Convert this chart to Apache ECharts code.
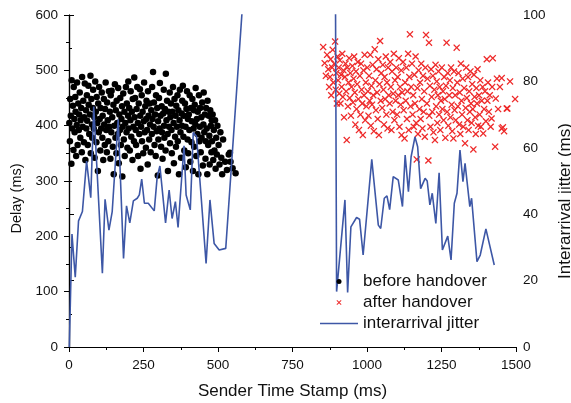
<!DOCTYPE html>
<html>
<head>
<meta charset="utf-8">
<script src="https://cdn.jsdelivr.net/npm/echarts@6/dist/echarts.min.js"></script>
<style>
  html, body { margin: 0; padding: 0; background: #fff; }
  #main { width: 571px; height: 403px; }
</style>
</head>
<body>
<div id="main"></div>
<script>
// before handover delay samples [sender ts (ms), delay (ms)]
const beforeHandover = [
  [1,405],[3,372],[4,448],[6,418],[8,331],[9,482],[11,395],[13,436],[15,356],[16,470],[18,412],[19,388],
  [21,452],[22,425],[24,345],[26,401],[27,478],[29,365],[31,440],[33,392],[34,420],[36,460],[38,378],[39,410],
  [41,432],[43,352],[44,488],[46,398],[48,445],[50,370],[51,415],[53,476],[55,338],[57,428],[58,395],[60,455],
  [61,409],[63,365],[65,472],[66,438],[68,385],[70,420],[72,490],[73,350],[75,448],[77,402],[78,378],[80,432],
  [81,465],[83,395],[85,415],[86,342],[88,480],[90,425],[92,370],[93,452],[95,405],[97,318],[98,440],[100,388],
  [101,470],[103,412],[105,355],[106,432],[108,395],[110,460],[112,378],[113,418],[115,338],[117,448],[118,402],[120,365],
  [121,430],[123,478],[125,392],[127,352],[128,442],[130,410],[132,372],[134,462],[135,398],[137,425],[139,340],[140,455],
  [142,388],[143,463],[145,415],[147,362],[149,438],[150,312],[152,400],[154,475],[156,378],[157,428],[159,350],[160,445],
  [162,405],[164,385],[165,468],[167,332],[169,420],[171,392],[172,450],[174,365],[176,412],[178,435],[179,308],[180,398],
  [182,458],[184,375],[186,425],[187,345],[189,405],[191,470],[193,388],[194,440],[196,360],[198,418],[199,480],[200,395],
  [202,432],[204,355],[206,410],[207,462],[209,380],[211,425],[213,338],[214,448],[216,398],[218,372],[219,487],[220,415],
  [222,450],[224,392],[225,365],[227,430],[229,470],[231,405],[232,345],[234,440],[236,385],[238,466],[239,418],[240,322],
  [242,398],[244,455],[245,372],[247,425],[249,350],[251,408],[252,478],[254,388],[256,435],[258,360],[259,412],[260,445],
  [262,392],[264,330],[265,462],[267,418],[269,375],[271,440],[272,402],[274,352],[276,428],[278,385],[279,470],[280,412],
  [282,497],[284,398],[285,442],[287,365],[289,420],[291,345],[292,455],[294,390],[296,432],[298,310],[299,408],[300,375],
  [302,450],[304,395],[305,477],[307,418],[309,362],[311,435],[312,388],[314,340],[316,422],[318,465],[319,400],[320,378],
  [322,430],[324,355],[325,494],[327,410],[329,445],[331,385],[332,318],[334,425],[336,398],[338,460],[339,368],[340,415],
  [342,440],[344,392],[345,350],[347,425],[349,470],[351,405],[352,332],[354,448],[356,380],[358,418],[359,362],[360,436],
  [362,398],[364,455],[365,372],[367,428],[369,312],[371,410],[372,465],[374,388],[376,342],[378,422],[379,400],[380,445],
  [382,472],[384,380],[385,418],[387,355],[389,440],[391,398],[392,325],[394,430],[396,462],[398,375],[399,412],[400,350],
  [402,420],[404,392],[405,455],[407,335],[409,432],[411,370],[412,408],[414,448],[416,318],[418,395],[419,428],[420,362],
  [422,438],[424,402],[425,468],[427,345],[429,412],[431,385],[432,425],[434,312],[436,455],[438,372],[439,398],[440,432],
  [442,352],[444,415],[445,378],[447,442],[449,328],[451,402],[452,460],[454,388],[456,420],[458,340],[459,372],[460,432],
  [462,395],[464,312],[465,445],[467,365],[469,418],[471,382],[472,330],[474,428],[476,400],[478,352],[479,410],[480,372],
  [482,420],[484,338],[486,392],[488,355],[490,410],[492,322],[494,378],[496,348],[498,400],
  [502,365],[505,330],[508,388],[511,342],[514,312],[517,375],
  [524,335],[530,320],[536,348],[540,351],[542,335],[549,323],[559,314]
];

// after handover delay samples
const afterHandover = [
  [853,542],[858,513],[862,490],[866,528],[870,502],[873,470],
  [876,488],[878,520],[880,455],[883,505],[885,537],[887,478],[890,512],[893,552],[895,465],[897,495],[899,440],
  [901,525],[903,482],[905,505],[907,458],[909,518],[911,440],[913,492],[915,470],[917,530],[919,452],[921,500],[923,415],
  [926,488],[928,512],[930,462],[932,374],[934,505],[936,435],[938,478],[940,522],[942,450],[944,495],[946,418],[948,470],
  [951,508],[953,442],[955,485],[957,525],[959,460],[961,402],[963,498],[965,430],[967,475],[969,515],[971,448],[973,392],
  [976,490],[978,420],[980,512],[982,465],[984,440],[986,383],[988,500],[990,455],[992,528],[994,410],[996,478],[998,435],
  [1001,505],[1003,462],[1005,418],[1007,490],[1009,445],[1011,528],[1013,400],[1015,472],[1017,438],[1019,510],[1021,455],[1023,390],
  [1026,538],[1028,482],[1030,428],[1032,502],[1034,460],[1036,412],[1038,520],[1040,383],[1042,475],[1044,553],[1046,445],[1048,495],
  [1051,432],[1053,510],[1055,465],[1057,402],[1059,488],[1061,448],[1063,525],[1065,420],[1067,478],[1069,395],[1071,505],[1073,455],
  [1076,440],[1078,515],[1080,470],[1082,392],[1084,498],[1086,425],[1088,458],[1090,530],[1092,410],[1094,482],[1096,445],[1098,505],
  [1101,420],[1103,488],[1105,455],[1107,522],[1109,398],[1111,470],[1113,438],[1115,500],[1116,383],[1118,460],[1121,515],[1123,428],
  [1126,377],[1128,478],[1130,445],[1132,505],[1134,412],[1136,462],[1138,530],[1140,392],[1142,488],[1144,565],[1146,435],[1148,470],
  [1151,512],[1153,420],[1155,455],[1157,398],[1159,492],[1161,440],[1163,525],[1165,405],[1167,339],[1169,468],[1171,385],[1173,500],
  [1176,430],[1178,478],[1180,412],[1182,512],[1184,448],[1186,395],[1188,490],[1190,425],[1192,462],[1194,380],[1196,505],[1198,564],
  [1201,440],[1203,485],[1206,337],[1208,550],[1209,418],[1211,472],[1213,398],[1215,502],[1217,452],[1219,425],[1221,490],[1223,388],
  [1226,465],[1228,374],[1230,510],[1232,435],[1234,480],[1236,405],[1238,455],[1240,498],[1242,420],[1244,470],[1246,392],[1248,445],
  [1251,505],[1253,430],[1255,462],[1257,410],[1259,488],[1261,448],[1263,378],[1265,472],[1267,550],[1269,425],[1271,495],[1273,400],
  [1276,455],[1278,482],[1280,415],[1282,505],[1284,438],[1286,390],[1288,468],[1290,377],[1292,498],[1294,428],[1296,455],[1298,410],
  [1301,541],[1303,478],[1305,435],[1307,495],[1309,402],[1311,460],[1313,385],[1315,512],[1317,445],[1319,420],[1321,485],[1323,398],
  [1326,468],[1329,368],[1331,432],[1333,505],[1335,450],[1337,410],[1339,488],[1341,392],[1343,462],[1345,425],[1347,498],[1349,440],
  [1351,405],[1353,475],[1355,430],[1357,357],[1359,492],[1361,452],[1363,415],[1365,385],[1367,468],[1369,440],[1371,502],[1373,400],
  [1376,455],[1378,420],[1380,482],[1382,398],[1385,445],[1388,470],[1390,386],[1393,430],[1396,462],[1399,408],
  [1402,520],[1404,445],[1406,478],[1409,425],[1412,455],[1415,398],[1418,413],[1420,470],[1422,522],
  [1430,362],[1432,449],[1436,485],[1440,430],[1446,470],[1452,486],[1452,395],[1456,397],[1460,390],[1469,431],[1471,431],[1480,480],[1497,448]
];

// interarrival jitter (right axis)
const jitter = [
  [1,0],[10,34],[21,21],[32,38],[45,40.8],[59,56],[73,45],[83,72.4],[112,22.2],[121,44.5],[134,35.2],[145,40.8],
  [165,68.6],[183,26.7],[193,42.5],[204,37.4],[216,44],[229,44.8],[236,45.8],[244,50.6],[253,43.3],[266,43.3],
  [286,41],[296,51.3],[305,54.5],[311,54.3],[324,37.4],[336,47.3],[346,38.7],[357,43.8],[366,36],[386,60.6],
  [393,45.8],[407,41.3],[417,64.6],[428,63.4],[443,45.8],[460,25.2],[473,44.3],[487,31.2],[504,29.2],[526,29.7],
  [878,488],[898,16.7],[926,44.3],[935,16.4],[946,36.2],[965,39],[975,38.5],[987,27.7],[1016,56.5],[1038,36.7],
  [1046,35.7],[1058,44.8],[1067,45.5],[1076,41.4],[1088,51.3],[1105,50.3],[1119,42.3],[1128,57.8],[1139,46.8],
  [1148,57.3],[1161,63.3],[1170,60.3],[1180,47.7],[1195,50.8],[1202,50],[1211,42.8],[1219,46.3],[1231,37.2],
  [1242,52.5],[1253,29.2],[1271,33.4],[1282,26.2],[1293,43.3],[1302,46.3],[1312,59.3],[1322,49.8],[1329,55.3],
  [1345,42.3],[1351,44.8],[1369,25.7],[1380,27.7],[1399,35.6],[1427,24.7]
];

const FONT = 'Liberation Sans, Arial, sans-serif';
// x 形状的点
const crossIcon = 'path://M0,1.3L1.3,0L5,3.7L8.7,0L10,1.3L6.3,5L10,8.7L8.7,10L5,6.3L1.3,10L0,8.7L3.7,5Z';
// 图例里的线
const lineIcon = 'path://M0,0L38,0L38,1.6L0,1.6Z';

const chart = echarts.init(document.getElementById('main'));

const axisLine = { show: true, lineStyle: { color: '#000', width: 1.2 } };
const tickLine = { color: '#000', width: 1 };
const numLabel = function (v) { return String(v); };

const option = {
  animation: false,
  textStyle: { fontFamily: FONT },
  grid: { left: 69, right: 55, top: 15, bottom: 56, containLabel: false, outerBoundsMode: 'none' },
  legend: {
    orient: 'vertical',
    left: 315,
    top: 268,
    itemWidth: 38,
    itemHeight: 5,
    itemGap: 4,
    textStyle: { fontSize: 17, color: '#111', fontFamily: FONT },
    data: [
      { name: 'before handover', icon: 'circle' },
      { name: 'after handover', icon: crossIcon },
      { name: 'interarrival jitter', icon: lineIcon }
    ]
  },
  xAxis: [
    {
      type: 'value', min: 0, max: 1500, interval: 250, position: 'bottom',
      axisLine: axisLine,
      axisTick: { show: true, length: 5, lineStyle: tickLine },
      minorTick: { show: true, splitNumber: 2, length: 3, lineStyle: tickLine },
      axisLabel: { fontSize: 13.5, color: '#111', margin: 11, formatter: numLabel },
      splitLine: { show: false },
      name: 'Sender Time Stamp (ms)', nameLocation: 'middle', nameGap: 36,
      nameTextStyle: { fontSize: 17, color: '#111' }
    },
    {
      // 上边框
      type: 'value', min: 0, max: 1500, interval: 125, position: 'top',
      axisLine: axisLine,
      axisTick: { show: true, inside: true, length: 3, lineStyle: tickLine },
      axisLabel: { show: false },
      splitLine: { show: false }
    }
  ],
  yAxis: [
    {
      type: 'value', min: 0, max: 600, interval: 100, position: 'left',
      axisLine: axisLine,
      axisTick: { show: true, length: 5, lineStyle: tickLine },
      minorTick: { show: true, splitNumber: 2, length: 3, lineStyle: tickLine },
      axisLabel: { fontSize: 13.5, color: '#111', margin: 11, formatter: numLabel },
      splitLine: { show: false },
      name: 'Delay (ms)', nameLocation: 'middle', nameRotate: 90, nameGap: 42,
      nameTextStyle: { fontSize: 14.5, color: '#111', padding: [0, 35, 0, 0] }
    },
    {
      type: 'value', min: 0, max: 100, interval: 20, position: 'right',
      axisLine: axisLine,
      axisTick: { show: true, length: 5, lineStyle: tickLine },
      minorTick: { show: true, splitNumber: 2, length: 3, lineStyle: tickLine },
      axisLabel: { fontSize: 13.5, color: '#111', margin: 7, formatter: numLabel },
      splitLine: { show: false },
      name: 'Interarrival jitter (ms)', nameLocation: 'middle', nameRotate: 90, nameGap: 39,
      nameTextStyle: { fontSize: 17, color: '#111', padding: [0, 40, 0, 0] }
    }
  ],
  series: [
    {
      name: 'before handover', type: 'scatter', xAxisIndex: 0, yAxisIndex: 0,
      symbol: 'circle', symbolSize: 6.5,
      itemStyle: { color: '#000', opacity: 1 },
      data: beforeHandover, z: 2
    },
    {
      name: 'after handover', type: 'scatter', xAxisIndex: 0, yAxisIndex: 0,
      symbol: crossIcon, symbolSize: 7,
      itemStyle: { color: '#ee2a2a', opacity: 1 },
      data: afterHandover, z: 2
    },
    {
      name: 'interarrival jitter', type: 'line', xAxisIndex: 0, yAxisIndex: 1,
      symbol: 'none', showSymbol: false, clip: true,
      lineStyle: { color: '#3d57a6', width: 1.6 },
      itemStyle: { color: '#3d57a6' },
      data: jitter, z: 3
    }
  ]
};

chart.setOption(option);
</script>
</body>
</html>
